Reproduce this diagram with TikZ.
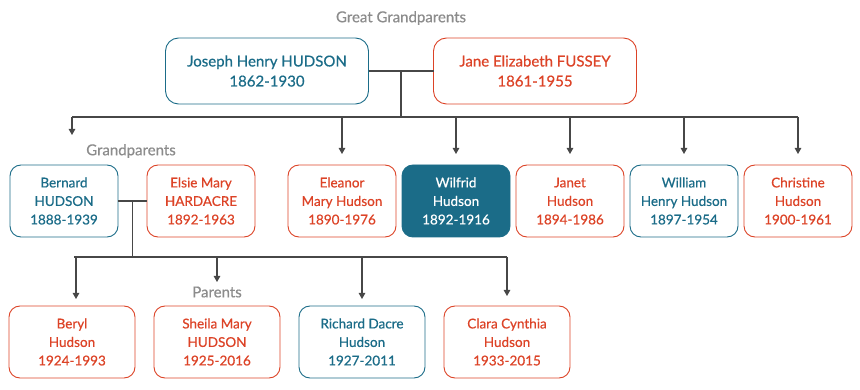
\documentclass[tikz,border=0pt]{standalone}
\usepackage{fontspec}
\setmainfont{Lato}[FakeBold=0.6]
\usepackage{tikz}
\usetikzlibrary{arrows.meta,positioning,calc}
\definecolor{hudblue}{HTML}{1B6C88}
\definecolor{hudred}{HTML}{DC4327}
\definecolor{gengray}{HTML}{8C8C8C}
\definecolor{linkgray}{HTML}{474747}

\begin{document}
\begin{tikzpicture}[x=1pt, y=-1pt,
  person/.style={rectangle, draw=#1, text=#1, rounded corners=11pt,
                 line width=0.9pt, minimum height=72pt, minimum width=108pt,
                 align=center, inner sep=2pt, outer sep=0pt,
                 font=\fontsize{13.5}{18.5}\selectfont},
  person/.default={hudred},
  elder/.style={person=#1, minimum height=66pt, minimum width=203pt,
                rounded corners=13pt, font=\fontsize{15}{20}\selectfont},
  gen/.style={text=gengray, font=\fontsize{15}{18}\selectfont},
  link/.style={draw=linkgray, line width=1.1pt},
  arrow/.style={link, -{Triangle[length=6pt, width=6.5pt]}, shorten >=#1},
  arrow/.default={11pt},
  node distance=6pt
]
  \useasboundingbox (0,0) rectangle (860,390);

  % Great grandparents
  \node[gen] (ggplabel) at (401,18) {Great Grandparents};
  \node[elder=hudblue] (joseph) at (267,71) {Joseph Henry HUDSON\\1862-1930};
  \node[elder=hudred, right=65pt of joseph] (jane) {Jane Elizabeth FUSSEY\\1861-1955};

  % Grandparents row
  \node[gen] (gplabel) at (131,151) {Grandparents};
  \node[person=hudblue] (bernard) at (64,201) {Bernard\\HUDSON\\1888-1939};
  \node[person, right=29pt of bernard] (elsie) {Elsie Mary\\HARDACRE\\1892-1963};
  \node[person, right=33pt of elsie] (eleanor) {Eleanor\\Mary Hudson\\1890-1976};
  \node[person=hudblue, fill=hudblue, text=white, right=of eleanor] (wilfrid) {Wilfrid\\Hudson\\1892-1916};
  \node[person, right=of wilfrid] (janet) {Janet\\Hudson\\1894-1986};
  \node[person=hudblue, right=of janet] (william) {William\\Henry Hudson\\1897-1954};
  \node[person, right=of william] (christine) {Christine\\Hudson\\1900-1961};

  % Parents row
  \node[gen] (plabel) at (217,292) {Parents};
  \node[person, minimum width=126pt] (beryl) at (72,342) {Beryl\\Hudson\\1924-1993};
  \node[person, minimum width=126pt, right=19pt of beryl] (sheila) {Sheila Mary\\HUDSON\\1925-2016};
  \node[person=hudblue, minimum width=126pt, right=19pt of sheila] (richard) {Richard Dacre\\Hudson\\1927-2011};
  \node[person, minimum width=126pt, right=19pt of richard] (clara) {Clara Cynthia\\Hudson\\1933-2015};

  % Joseph + Jane children
  \coordinate (ggm) at ($(joseph.east)!0.5!(jane.west)$);
  \coordinate (ggbus) at ($(ggm)+(0,46)$);
  \draw[link] (joseph.east) -- (jane.west);
  \draw[link] (ggm) -- (ggbus);
  \draw[link] ([xshift=8pt]bernard.north |- ggbus) -- (christine.north |- ggbus);
  \draw[arrow=30pt] ([xshift=8pt]bernard.north |- ggbus) -- ([xshift=8pt]bernard.north);
  \foreach \kid in {eleanor,wilfrid,janet,william,christine}
    \draw[arrow] (\kid.north |- ggbus) -- (\kid.north);

  % Bernard + Elsie children
  \coordinate (gm) at ($(bernard.east)!0.5!(elsie.west)$);
  \coordinate (gbus) at ($(gm)+(0,56)$);
  \draw[link] (bernard.east) -- (elsie.west);
  \draw[link] (gm) -- (gbus);
  \draw[link] ([xshift=2pt]beryl.north |- gbus) -- (clara.north |- gbus);
  \draw[arrow=7pt] ([xshift=4pt]beryl.north |- gbus) -- ([xshift=4pt]beryl.north);
  \draw[arrow=24pt] (sheila.north |- gbus) -- (sheila.north);
  \draw[arrow=7pt] (richard.north |- gbus) -- (richard.north);
  \draw[arrow=10pt] (clara.north |- gbus) -- (clara.north);
\end{tikzpicture}
\end{document}
